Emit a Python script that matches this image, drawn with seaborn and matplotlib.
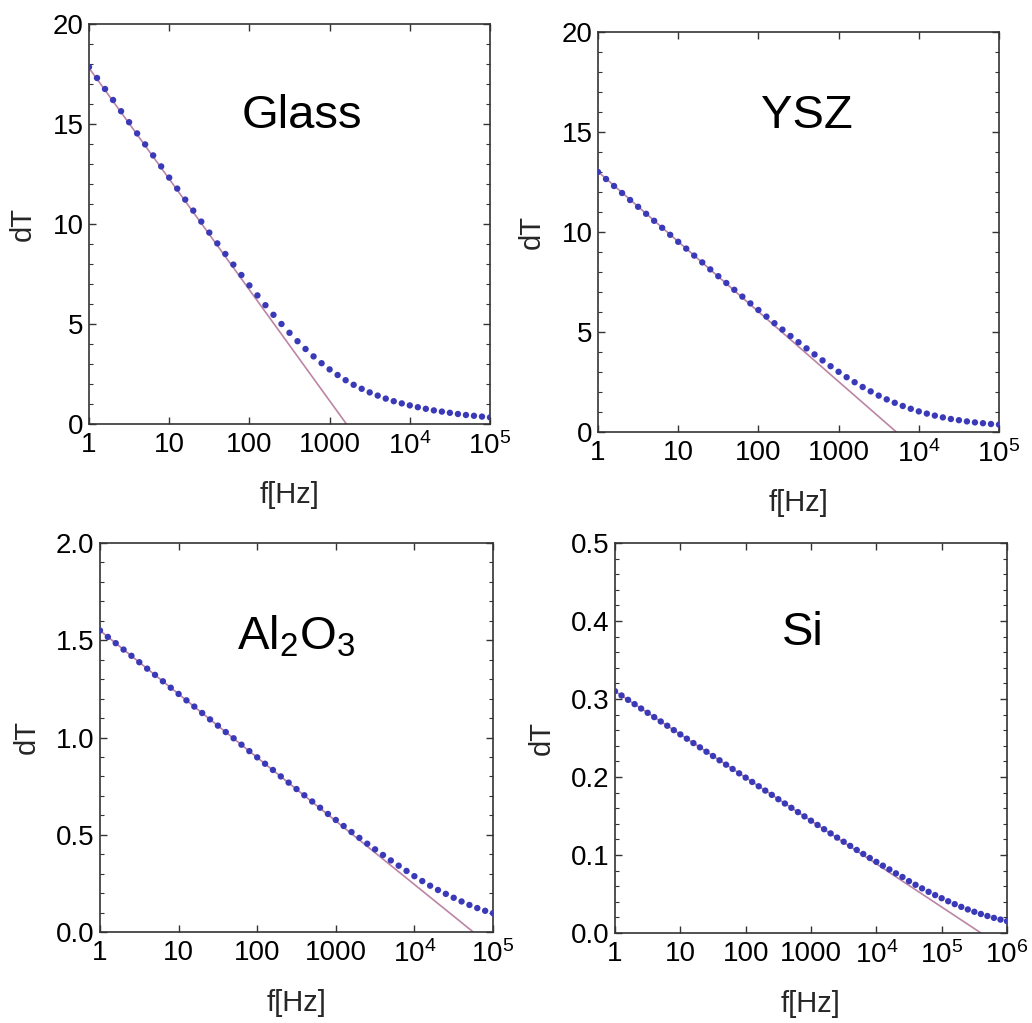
import numpy as np
import pandas as pd
import matplotlib
matplotlib.use("Agg")
import matplotlib.pyplot as plt
import matplotlib.ticker as mticker
import seaborn as sns

# ---------------- data ----------------
log_f_5dec = [0.0, 0.1, 0.2, 0.3, 0.4, 0.5, 0.6, 0.7, 0.8, 0.9,
              1.0, 1.1, 1.2, 1.3, 1.4, 1.5, 1.6, 1.7, 1.8, 1.9,
              2.0, 2.1, 2.2, 2.3, 2.4, 2.5, 2.6, 2.7, 2.8, 2.9,
              3.0, 3.1, 3.2, 3.3, 3.4, 3.5, 3.6, 3.7, 3.8, 3.9,
              4.0, 4.1, 4.2, 4.3, 4.4, 4.5, 4.6, 4.7, 4.8, 4.9, 5.0]
log_f_6dec = log_f_5dec + [5.1, 5.2, 5.3, 5.4, 5.5, 5.6, 5.7, 5.8, 5.9, 6.0]

glass_dT = [17.85, 17.30, 16.75, 16.20, 15.64, 15.09, 14.53, 13.98, 13.43, 12.88,
            12.32, 11.77, 11.22, 10.67, 10.12, 9.57, 9.03, 8.50, 7.97, 7.45,
            6.93, 6.43, 5.94, 5.46, 5.00, 4.56, 4.14, 3.75, 3.38, 3.04,
            2.73, 2.45, 2.19, 1.96, 1.76, 1.58, 1.42, 1.27, 1.14, 1.03,
            0.93, 0.84, 0.76, 0.68, 0.62, 0.56, 0.50, 0.45, 0.41, 0.37, 0.33]

ysz_dT = [13.00, 12.65, 12.30, 11.95, 11.60, 11.26, 10.91, 10.56, 10.21, 9.86,
          9.51, 9.17, 8.82, 8.48, 8.13, 7.79, 7.45, 7.11, 6.77, 6.43,
          6.10, 5.77, 5.44, 5.12, 4.80, 4.49, 4.18, 3.88, 3.58, 3.29,
          3.01, 2.74, 2.49, 2.25, 2.03, 1.82, 1.63, 1.46, 1.30, 1.16,
          1.03, 0.92, 0.82, 0.73, 0.65, 0.59, 0.53, 0.48, 0.44, 0.40, 0.37]

al2o3_dT = [1.550, 1.517, 1.485, 1.452, 1.420, 1.387, 1.354, 1.322, 1.289, 1.256,
            1.224, 1.191, 1.159, 1.126, 1.093, 1.061, 1.028, 0.996, 0.963, 0.930,
            0.898, 0.865, 0.833, 0.800, 0.768, 0.735, 0.703, 0.671, 0.639, 0.607,
            0.576, 0.545, 0.514, 0.484, 0.454, 0.425, 0.396, 0.368, 0.341, 0.314,
            0.287, 0.262, 0.238, 0.216, 0.196, 0.176, 0.157, 0.139, 0.123, 0.109, 0.097]

si_dT = [0.3100, 0.3045, 0.2989, 0.2934, 0.2878, 0.2823, 0.2768, 0.2712, 0.2657, 0.2601,
         0.2546, 0.2491, 0.2435, 0.2380, 0.2324, 0.2269, 0.2214, 0.2158, 0.2103, 0.2047,
         0.1992, 0.1937, 0.1881, 0.1826, 0.1771, 0.1715, 0.1660, 0.1605, 0.1550, 0.1495,
         0.1440, 0.1385, 0.1331, 0.1277, 0.1223, 0.1170, 0.1117, 0.1065, 0.1013, 0.0962,
         0.0912, 0.0863, 0.0815, 0.0765, 0.0718, 0.0665, 0.0618, 0.0572, 0.0528, 0.0486,
         0.0446, 0.0407, 0.0370, 0.0335, 0.0302, 0.0272, 0.0244, 0.0218, 0.0194, 0.0172, 0.0152]

# linear (slope) approximation lines: endpoints
glass_line_f = [1.0, 1620.0]
glass_line_dT = [17.80, 0.0]
ysz_line_f = [1.0, 5250.0]
ysz_line_dT = [13.02, 0.0]
al2o3_line_f = [1.0, 56000.0]
al2o3_line_dT = [1.55, 0.0]
si_line_f = [1.0, 400000.0]
si_line_dT = [0.310, 0.0]

titles = ["Glass", "YSZ", r"Al$_2$O$_3$", "Si"]
x_ticks_5 = [1, 10, 100, 1000, 1e4, 1e5]
x_ticklabels_5 = ["1", "10", "100", "1000", r"$10^{4}$", r"$10^{5}$"]
x_ticks_6 = [1, 10, 100, 1000, 1e4, 1e5, 1e6]
x_ticklabels_6 = ["1", "10", "100", "1000", r"$10^{4}$", r"$10^{5}$", r"$10^{6}$"]
y_ticks_20 = [0, 5, 10, 15, 20]
y_ticklabels_20 = ["0", "5", "10", "15", "20"]
y_ticks_2 = [0.0, 0.5, 1.0, 1.5, 2.0]
y_ticklabels_2 = ["0.0", "0.5", "1.0", "1.5", "2.0"]
y_ticks_05 = [0.0, 0.1, 0.2, 0.3, 0.4, 0.5]
y_ticklabels_05 = ["0.0", "0.1", "0.2", "0.3", "0.4", "0.5"]

# ---------------- style ----------------
sns.set_style("ticks")
plt.rcParams["font.family"] = ["Liberation Sans", "DejaVu Sans"]
plt.rcParams["mathtext.default"] = "regular"
plt.rcParams["mathtext.fontset"] = "custom"
plt.rcParams["mathtext.rm"] = "Liberation Sans"

DOT_COLOR = "#3a3ab8"
LINE_COLOR = "#bd85a5"
FRAME = "#333333"
TICK_FS = 20
LABEL_FS = 21
TITLE_FS = 34

fig = plt.figure(figsize=(10.32, 10.23), dpi=100)

panels = [
    dict(pos=[89 / 1032, 1 - 424 / 1023, 401 / 1032, 400 / 1023],
         logf=log_f_5dec, dT=glass_dT, lf=glass_line_f, ld=glass_line_dT,
         xlim=(1, 1e5), xt=x_ticks_5, xtl=x_ticklabels_5,
         ylim=(0, 20), yt=y_ticks_20, ytl=y_ticklabels_20, yminor=1.0,
         title=titles[0], tpos=(0.53, 0.77)),
    dict(pos=[598 / 1032, 1 - 432 / 1023, 401 / 1032, 400 / 1023],
         logf=log_f_5dec, dT=ysz_dT, lf=ysz_line_f, ld=ysz_line_dT,
         xlim=(1, 1e5), xt=x_ticks_5, xtl=x_ticklabels_5,
         ylim=(0, 20), yt=y_ticks_20, ytl=y_ticklabels_20, yminor=1.0,
         title=titles[1], tpos=(0.52, 0.79)),
    dict(pos=[100 / 1032, 1 - 932 / 1023, 393 / 1032, 389 / 1023],
         logf=log_f_5dec, dT=al2o3_dT, lf=al2o3_line_f, ld=al2o3_line_dT,
         xlim=(1, 1e5), xt=x_ticks_5, xtl=x_ticklabels_5,
         ylim=(0, 2.0), yt=y_ticks_2, ytl=y_ticklabels_2, yminor=0.1,
         title=titles[2], tpos=(0.50, 0.76)),
    dict(pos=[615 / 1032, 1 - 933 / 1023, 392 / 1032, 390 / 1023],
         logf=log_f_6dec, dT=si_dT, lf=si_line_f, ld=si_line_dT,
         xlim=(1, 1e6), xt=x_ticks_6, xtl=x_ticklabels_6,
         ylim=(0, 0.5), yt=y_ticks_05, ytl=y_ticklabels_05, yminor=0.02,
         title=titles[3], tpos=(0.48, 0.77)),
]

for p in panels:
    ax = fig.add_axes(p["pos"])
    df_pts = pd.DataFrame({"f": 10 ** np.array(p["logf"]), "dT": p["dT"]})
    df_line = pd.DataFrame({"f": p["lf"], "dT": p["ld"]})
    ax.set_xscale("log")
    sns.lineplot(data=df_line, x="f", y="dT", ax=ax, color=LINE_COLOR,
                 linewidth=1.2, zorder=2)
    sns.scatterplot(data=df_pts, x="f", y="dT", ax=ax, color=DOT_COLOR,
                    s=21, linewidth=0, edgecolor="none", zorder=3)
    ax.set_xlim(*p["xlim"])
    ax.set_ylim(*p["ylim"])
    ax.set_xticks(p["xt"])
    ax.set_xticklabels(p["xtl"])
    ax.xaxis.set_minor_locator(mticker.LogLocator(base=10, subs=np.arange(2, 10)))
    ax.xaxis.set_minor_formatter(mticker.NullFormatter())
    ax.set_yticks(p["yt"])
    ax.set_yticklabels(p["ytl"])
    ax.yaxis.set_minor_locator(mticker.MultipleLocator(p["yminor"]))
    ax.tick_params(which="both", direction="in", top=True, right=True,
                   colors=FRAME, labelcolor="black", labelsize=TICK_FS)
    ax.tick_params(axis="x", which="major", length=5, width=1.0, pad=6)
    ax.tick_params(axis="x", which="minor", length=2.5, width=0.8)
    ax.tick_params(axis="y", which="major", length=5, width=1.0, pad=4)
    ax.tick_params(axis="y", which="minor", length=3, width=0.8)
    for s in ax.spines.values():
        s.set_color(FRAME)
        s.set_linewidth(1.2)
    ax.set_xlabel("f[Hz]", fontsize=LABEL_FS, labelpad=15)
    ax.set_ylabel("dT", fontsize=LABEL_FS, labelpad=11)
    ax.text(p["tpos"][0], p["tpos"][1], p["title"], transform=ax.transAxes,
            ha="center", va="center", fontsize=TITLE_FS, color="black")

fig.savefig("out.png", dpi=100)
